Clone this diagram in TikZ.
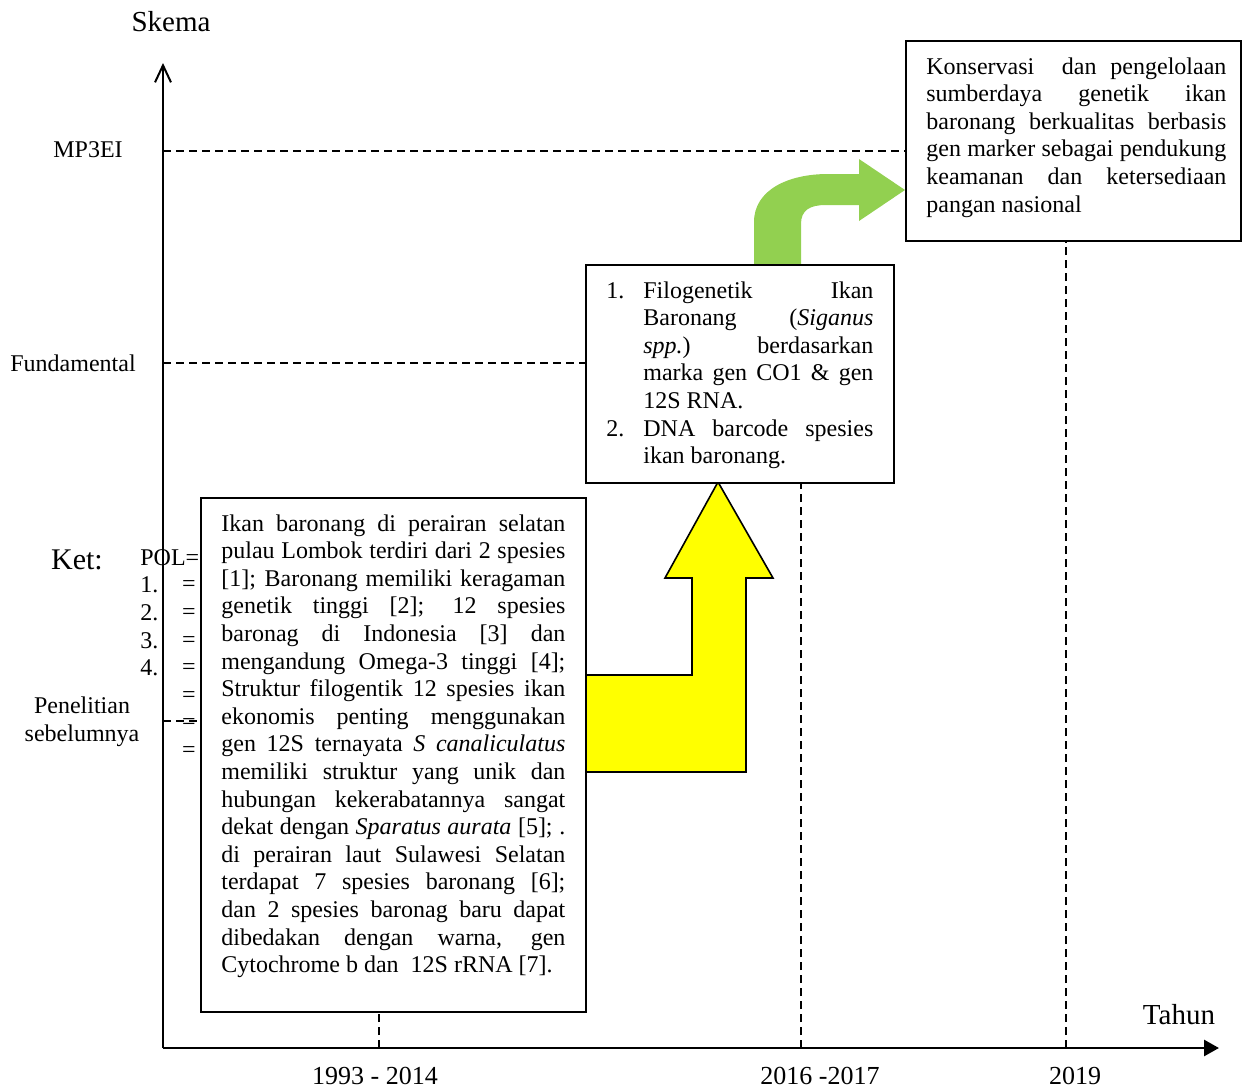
\documentclass[tikz,border=0pt]{standalone}
\usepackage{fontspec}
\setmainfont{Liberation Serif}
\usetikzlibrary{arrows.meta,backgrounds}
\tolerance=10000 \hyphenpenalty=10000 \hbadness=10000 \exhyphenpenalty=10000
\definecolor{ygold}{HTML}{FFFF00}
\definecolor{lgreen}{HTML}{92D050}
\newcommand{\bodyfs}{\fontsize{12}{13.8}\selectfont}
\newcommand{\brk}{\linebreak\relax}
\begin{document}
\begin{tikzpicture}[x=0.5pt,y=-0.5pt,
  frame/.style={draw=black, line width=0.8pt, fill=white, inner sep=0pt, anchor=north west},
  para/.style={inner sep=0pt, anchor=north west, align=justify, font=\bodyfs},
  lbl/.style={inner sep=0pt, font=\bodyfs},
  biglbl/.style={inner sep=0pt, font=\fontsize{14.5}{17}\selectfont},
  yearlbl/.style={inner sep=0pt, font=\fontsize{13}{15}\selectfont},
  guide/.style={line width=0.75pt, dash pattern=on 4pt off 2.5pt},
  axisline/.style={line width=1.4pt}]
\useasboundingbox (0,0) rectangle (1244,1092);

% axis coordinates
\coordinate (O) at (163,1048);
\coordinate (ytop) at (163,63);
\coordinate (xend) at (1219,1048);
\coordinate (ymp) at (163,151);
\coordinate (yfu) at (163,363);
\coordinate (ype) at (163,721);
\coordinate (x1) at (379,1048);
\coordinate (x2) at (801,1048);
\coordinate (x3) at (1066,1048);

% boxes
\node[frame, minimum width=192.5pt, minimum height=257pt] (b1) at (200,497) {};
\node[frame, minimum width=154pt, minimum height=109pt] (b2) at (585,264) {};
\node[frame, minimum width=167.5pt, minimum height=100pt] (b3) at (905,40) {};

% box texts
\node[para, text width=172pt] (t1) at (221,514) {Ikan baronang di perairan selatan\brk
pulau Lombok terdiri dari 2 spesies\brk
[1]; Baronang memiliki keragaman\brk
genetik tinggi [2]; 12 spesies\brk
baronag di Indonesia [3] dan\brk
mengandung Omega-3 tinggi [4];\brk
Struktur filogentik 12 spesies ikan\brk
ekonomis penting menggunakan\brk
gen 12S ternayata \textit{S canaliculatus}\brk
memiliki struktur yang unik dan\brk
hubungan kekerabatannya sangat\brk
dekat dengan \textit{Sparatus aurata} [5]; .\brk
di perairan laut Sulawesi Selatan\brk
terdapat 7 spesies baronang [6];\brk
dan 2 spesies baronag baru dapat\brk
dibedakan dengan warna, gen\brk
Cytochrome b dan\ \ 12S rRNA [7].\par};

\node[para, text width=133.5pt] (t2) at (606,281) {\noindent\hangindent=18.5pt\hangafter=1\makebox[18.5pt][l]{1.}Filogenetik Ikan\brk
Baronang (\textit{Siganus}\brk
\textit{spp.}) berdasarkan\brk
marka gen CO1 \& gen\brk
12S RNA.\par
\noindent\hangindent=18.5pt\hangafter=1\makebox[18.5pt][l]{2.}DNA barcode spesies\brk
ikan baronang.\par};

\node[para, text width=150pt] (t3) at (926,57) {Konservasi\ \ dan pengelolaan\brk
sumberdaya genetik ikan\brk
baronang berkualitas berbasis\brk
gen marker sebagai pendukung\brk
keamanan dan ketersediaan\brk
pangan nasional\par};

\begin{scope}[on background layer]
  % guides
  \draw[guide] (ymp) -- (ymp -| b3.west);
  \draw[guide] (yfu) -- (yfu -| b2.west);
  \draw[guide] (ype) -- (ype -| b1.west);
  \draw[guide] (x1) -- (x1 |- b1.south);
  \draw[guide] (x2) -- (x2 |- b2.south);
  \draw[guide] (x3) -- (x3 |- b3.south);
  % yellow arrow
  \draw[fill=ygold, line width=0.8pt, line join=miter]
    (570,675) -- (692,675) -- (692,578) -- (665,578) -- (718,482) -- (773,578)
    -- (746,578) -- (746,772) -- (570,772) -- cycle;
  % green arrow
  \fill[lgreen] (754,270) -- (754,222) .. controls (754,190) and (788,174) .. (828,174)
    -- (859,174) -- (859,159) -- (905,190) -- (859,221) -- (859,205) -- (826,205)
    .. controls (810,205) and (801,210) .. (801,224) -- (801,270) -- cycle;
\end{scope}

% axes
\draw[axisline, -{Straight Barb[length=8.5pt,width=8pt,line width=1pt]}] (O) -- (ytop);
\draw[axisline, -{Triangle[length=7.5pt,width=8pt]}] (O) -- (xend);

% labels
\node[biglbl] (skema) at (171,22) {Skema};
\node[biglbl] (tahun) at (1179,1015) {Tahun};
\node[lbl] (lmp) at (88,150) {MP3EI};
\node[lbl] (lfu) at (73,363) {Fundamental};
\node[lbl, align=center] (lpe) at (82,722) {Penelitian\\sebelumnya};
\node[yearlbl] (yr1) at (375,1076) {1993 - 2014};
\node[yearlbl] (yr2) at (820,1076) {2016 -2017};
\node[yearlbl] (yr3) at (1075,1076) {2019};

% legend
\node[inner sep=0pt, font=\fontsize{15}{18}\selectfont] (ket) at (77,560) {Ket:};
\node[lbl, anchor=west] (pol) at (140,558) {POL=};
\node[lbl, anchor=west] (n1) at (140,585) {1.};
\node[lbl, anchor=west] (n2) at (140,613) {2.};
\node[lbl, anchor=west] (n3) at (140,641) {3.};
\node[lbl, anchor=west] (n4) at (140,668) {4.};
\node[lbl] (e1) at (189,586) {=};
\node[lbl] (e2) at (189,614) {=};
\node[lbl] (e3) at (189,642) {=};
\node[lbl] (e4) at (189,669) {=};
\node[lbl] (e5) at (189,697) {=};
\node[lbl] (e6) at (189,724) {=};
\node[lbl] (e7) at (189,752) {=};
\end{tikzpicture}
\end{document}
